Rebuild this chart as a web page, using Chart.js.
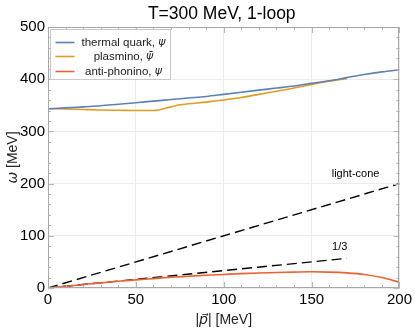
<!DOCTYPE html>
<html>
<head>
<meta charset="utf-8">
<script src="https://cdn.jsdelivr.net/npm/chart.js@4"></script>
<style>
  html, body { margin: 0; padding: 0; background: #fff; }
  #wrap { width: 415px; height: 331px; }
</style>
</head>
<body>
<div id="wrap"><canvas id="chart"></canvas></div>
<script>
// momentum grid |p| in MeV
const pVals = [0, 10, 20, 30, 40, 50, 60, 70, 80, 90, 100, 110, 120, 130, 140, 150, 160, 170, 180, 190, 200];
const thermalQuark = [343.5, 345, 347, 349, 352, 355, 358, 361, 364, 367, 371, 375, 379, 383, 387, 392, 397, 403, 409, 414, 418];
const plasminoP = [0, 10, 20, 30, 40, 50, 60, 70, 75, 80, 90, 100, 110, 120, 130, 140, 150, 160, 170];
const plasmino = [343.5, 343, 342, 341, 340.5, 340, 340, 347, 351, 353, 356, 360, 365, 371, 377, 383, 390, 396, 401];
const antiPhonino = [0, 3.3, 6.6, 9.8, 12.8, 15.5, 18, 20.5, 22.5, 24.5, 26, 27.5, 28.8, 29.8, 30.5, 31, 30.5, 29, 26, 20, 11];
const lightConeP = [0, 200];
const lightConeW = [0, 200];
const thirdP = [0, 170];
const thirdW = [0, 56.7];

const xTicks = [0, 50, 100, 150, 200];
const yTicks = [0, 100, 200, 300, 400, 500];

const FONT = "'Liberation Sans', Arial, sans-serif";
const GREEK = "'DejaVu Sans', sans-serif";

function pts(xs, ys) {
    return xs.map((x, i) => ({x: x, y: ys[i]}));
}

// draw a run of [text, font] pieces centred on cx
function drawPieces(ctx, pieces, cx, cy) {
    let total = 0;
    pieces.forEach(p => { ctx.font = p[1]; total += ctx.measureText(p[0]).width; });
    let x = cx - total / 2;
    ctx.textAlign = 'left';
    pieces.forEach(p => {
        ctx.font = p[1];
        ctx.fillText(p[0], x, cy);
        x += ctx.measureText(p[0]).width;
    });
}

// frame, minor ticks, legend box, annotations, titles
const decor = {
    id: 'decor',
    afterDatasetsDraw(chart) {
        const {ctx, chartArea: a, scales: {x, y}} = chart;
        ctx.save();
        // minor ticks, pointing inward
        ctx.strokeStyle = '#b5b5b5';
        ctx.lineWidth = 1;
        for (let v = 0; v <= 200; v += 10) {
            const px = Math.round(x.getPixelForValue(v)) + 0.5;
            const len = v % 50 === 0 ? 6 : 3;
            ctx.beginPath();
            ctx.moveTo(px, a.bottom); ctx.lineTo(px, a.bottom - len);
            ctx.moveTo(px, a.top); ctx.lineTo(px, a.top + len);
            ctx.stroke();
        }
        for (let v = 0; v <= 500; v += 20) {
            const py = Math.round(y.getPixelForValue(v)) + 0.5;
            const len = v % 100 === 0 ? 6 : 3;
            ctx.beginPath();
            ctx.moveTo(a.left, py); ctx.lineTo(a.left + len, py);
            ctx.moveTo(a.right, py); ctx.lineTo(a.right - len, py);
            ctx.stroke();
        }
        // frame
        ctx.strokeStyle = '#a8a8a8';
        ctx.strokeRect(Math.round(a.left) + 0.5, Math.round(a.top) + 0.5,
            Math.round(a.width) - 1, Math.round(a.height) - 1);

        // annotations
        ctx.fillStyle = '#000';
        ctx.font = '11px ' + FONT;
        ctx.textAlign = 'center';
        ctx.textBaseline = 'middle';
        ctx.fillText('light-cone', x.getPixelForValue(175), y.getPixelForValue(218));
        ctx.fillText('1/3', x.getPixelForValue(166), y.getPixelForValue(79));

        // legend
        const bx = a.left + 2.5, by = a.top + 2.5, bw = 120, bh = 50;
        ctx.fillStyle = 'rgba(255,255,255,0.9)';
        ctx.fillRect(bx, by, bw, bh);
        ctx.strokeStyle = '#c8c8c8';
        ctx.strokeRect(bx, by, bw, bh);
        const rows = [by + 13, by + 27, by + 42];
        const psis = ['\u03C8', '\u03C8\u0304', '\u03C8'];
        [0, 1, 2].forEach(i => {
            const ds = chart.data.datasets[i];
            ctx.strokeStyle = ds.borderColor;
            ctx.lineWidth = 1.6;
            ctx.beginPath();
            ctx.moveTo(bx + 5, rows[i]); ctx.lineTo(bx + 24, rows[i]);
            ctx.stroke();
            ctx.fillStyle = '#222';
            const name = ds.label.slice(0, ds.label.indexOf(',') + 1) + ' ';
            drawPieces(ctx, [[name, '11.5px ' + FONT], [psis[i], 'oblique 11px ' + GREEK]], bx + 73, rows[i]);
        });

        // x axis title
        ctx.fillStyle = '#222';
        drawPieces(ctx, [['|', '14px ' + FONT], ['p\u20D7', 'oblique 14px ' + GREEK], ['| [MeV]', '14px ' + FONT]],
            (a.left + a.right) / 2, 320);
        // y axis title
        ctx.save();
        ctx.translate(13, (a.top + a.bottom) / 2);
        ctx.rotate(-Math.PI / 2);
        drawPieces(ctx, [['\u03C9', 'oblique 14px ' + GREEK], [' [MeV]', '14px ' + FONT]], 0, 0);
        ctx.restore();

        // title centred above the plot frame
        ctx.fillStyle = '#000';
        ctx.textAlign = 'center';
        ctx.font = '17.5px ' + FONT;
        ctx.fillText('T=300 MeV, 1-loop', (a.left + a.right) / 2 - 2, 14);
        ctx.restore();
    }
};

new Chart(document.getElementById('chart'), {
    type: 'scatter',
    data: {
        datasets: [{
            label: 'thermal quark, \u03C8',
            data: pts(pVals, thermalQuark),
            borderColor: '#5e81b5',
            borderWidth: 1.6
        }, {
            label: 'plasmino, \u03C8\u0304',
            data: pts(plasminoP, plasmino),
            borderColor: '#e19c24',
            borderWidth: 1.6
        }, {
            label: 'anti-phonino, \u03C8',
            data: pts(pVals, antiPhonino),
            borderColor: '#eb6235',
            borderWidth: 1.6
        }, {
            label: 'light-cone',
            data: pts(lightConeP, lightConeW),
            borderColor: '#000',
            borderWidth: 1.4,
            borderDash: [10, 5]
        }, {
            label: '1/3',
            data: pts(thirdP, thirdW),
            borderColor: '#000',
            borderWidth: 1.4,
            borderDash: [10, 5]
        }]
    },
    options: {
        responsive: true,
        maintainAspectRatio: false,
        animation: false,
        showLine: true,
        elements: {
            point: {radius: 0},
            line: {cubicInterpolationMode: 'monotone', fill: false}
        },
        layout: {padding: {top: 27, right: 15, left: 0, bottom: 0}},
        plugins: {
            legend: {display: false},
            tooltip: {enabled: false}
        },
        scales: {
            x: {
                type: 'linear',
                min: 0,
                max: 200,
                afterFit(s) { s.height = 43; },
                afterBuildTicks(s) { s.ticks = xTicks.map(v => ({value: v})); },
                grid: {color: '#ebebeb', drawTicks: false},
                border: {display: false},
                ticks: {color: '#000', padding: 3, font: {family: FONT, size: 15}}
            },
            y: {
                type: 'linear',
                min: 0,
                max: 500,
                afterFit(s) { s.width = 48; },
                afterBuildTicks(s) { s.ticks = yTicks.map(v => ({value: v})); },
                grid: {color: '#ebebeb', drawTicks: false},
                border: {display: false},
                ticks: {color: '#000', padding: 3, font: {family: FONT, size: 15}}
            }
        }
    },
    plugins: [decor]
});
</script>
</body>
</html>
